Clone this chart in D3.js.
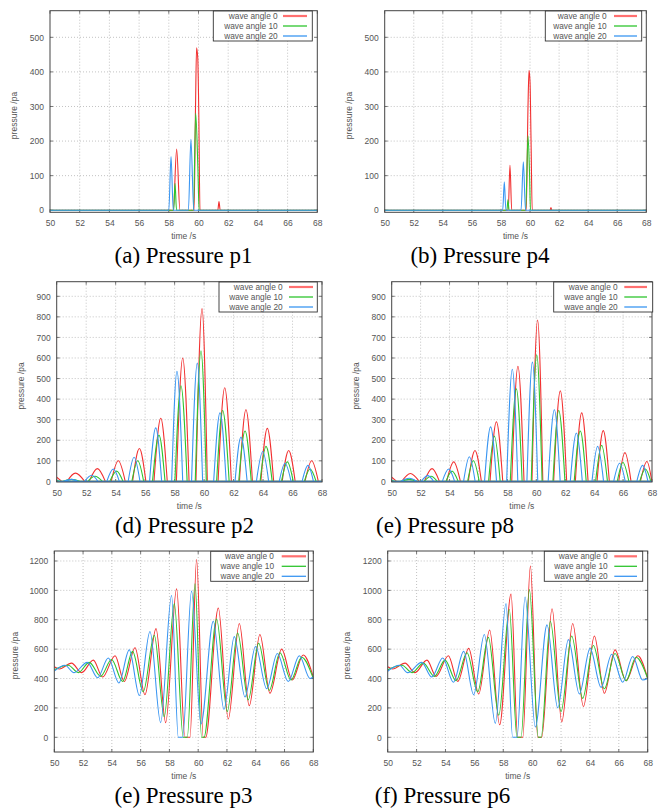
<!DOCTYPE html>
<html>
<head>
<meta charset="utf-8">
<script src="https://cdn.jsdelivr.net/npm/d3@7"></script>
<style>
  body { margin: 0; background: #fff; }
  svg { display: block; }
</style>
</head>
<body>
<svg id="fig" width="662" height="811"></svg>
<script>
// ---- shared axis values ----
const timeTicks = [50, 52, 54, 56, 58, 60, 62, 64, 66, 68];
const seriesNames = ["wave angle 0", "wave angle 10", "wave angle 20"];
const ticksSmall = [0, 100, 200, 300, 400, 500];
const ticksMid = [0, 100, 200, 300, 400, 500, 600, 700, 800, 900];
const ticksLarge = [0, 200, 400, 600, 800, 1000, 1200];

// ---- p1 : [time, pressure] ----
const p1_angle0 = [[50,0],[58.3,0],[58.53,177],[58.75,0],[59.7,0],[59.8,300],[59.87,470],[59.95,440],[60.02,280],[60.1,0],[61.3,0],[61.38,25],[61.46,0],[68,0]];
const p1_angle10 = [[50,0],[58.33,0],[58.42,78],[58.52,0],[59.66,0],[59.81,280],[59.96,120],[60.04,0],[68,0]];
const p1_angle20 = [[50,0],[58.0,0],[58.15,155],[58.3,0],[59.32,0],[59.49,205],[59.68,0],[68,0]];

// ---- p4 : [time, pressure] ----
const p4_angle0 = [[50,0],[58.5,0],[58.62,130],[58.74,0],[59.74,0],[59.86,300],[59.93,405],[60.0,370],[60.07,200],[60.15,0],[61.38,0],[61.44,8],[61.5,0],[68,0]];
const p4_angle10 = [[50,0],[58.41,0],[58.48,30],[58.56,0],[59.7,0],[59.86,215],[59.97,100],[60.03,0],[68,0]];
const p4_angle20 = [[50,0],[58.12,0],[58.23,82],[58.34,0],[59.38,0],[59.54,140],[59.69,0],[68,0]];

// ---- p2 : leading samples, then pulses [start, peak time, peak, end] ----
const p2_angle0_lead = [[50,20],[50.35,0]];
const p2_angle0 = [[50.7,51.27,40,51.9],[52.2,52.76,62,53.3],[53.7,54.18,100,54.65],[55.15,55.61,160,56.05],[56.6,57.06,307,57.5],[58.12,58.55,600,58.98],[59.45,59.86,840,60.22],[60.95,61.4,455,61.85],[62.4,62.84,348,63.28],[63.85,64.29,258,64.72],[65.3,65.74,150,66.18],[66.85,67.3,100,67.75]];
const p2_angle10_lead = [[50,4],[50.3,0]];
const p2_angle10 = [[50.4,51.0,10,51.6],[52.1,52.6,25,53.1],[53.6,54.07,50,54.5],[55.1,55.5,100,55.9],[56.5,56.94,225,57.35],[58.02,58.43,465,58.85],[59.4,59.79,635,60.15],[60.85,61.26,345,61.7],[62.35,62.78,245,63.2],[63.8,64.2,170,64.62],[65.25,65.65,95,66.05],[66.8,67.19,60,67.6]];
const p2_angle20_lead = [[50,2],[50.3,0]];
const p2_angle20 = [[50.45,51.0,10,51.5],[51.9,52.37,30,52.8],[53.4,53.84,60,54.25],[54.85,55.25,117,55.65],[56.3,56.72,260,57.12],[57.8,58.16,535,58.55],[59.15,59.54,575,59.9],[60.65,61.08,333,61.5],[62.1,62.5,215,62.92],[63.55,63.98,145,64.38],[65.1,65.49,88,65.9],[66.65,67.05,78,67.42]];

// ---- p8 : leading samples, then pulses [start, peak time, peak, end] ----
const p8_angle0_lead = [[50,20],[50.35,0]];
const p8_angle0 = [[50.7,51.29,38,51.9],[52.25,52.79,62,53.3],[53.8,54.29,95,54.75],[55.3,55.76,150,56.2],[56.8,57.24,290,57.68],[58.3,58.73,560,59.15],[59.7,60.09,785,60.45],[61.2,61.66,440,62.1],[62.7,63.14,333,63.58],[64.2,64.63,247,65.05],[65.7,66.13,140,66.55],[67.2,67.65,97,67.99]];
const p8_angle10_lead = [[50,4],[50.3,0]];
const p8_angle10 = [[50.6,51.2,10,51.8],[52.25,52.72,25,53.15],[53.75,54.17,50,54.6],[55.25,55.65,100,56.05],[56.7,57.1,220,57.5],[58.2,58.62,450,59.02],[59.65,60.03,615,60.4],[61.15,61.55,345,61.98],[62.62,63.04,245,63.45],[64.1,64.52,175,64.92],[65.6,65.99,92,66.4],[67.15,67.54,60,67.92]];
const p8_angle20_lead = [[50,2],[50.3,0]];
const p8_angle20 = [[50.6,51.22,15,51.75],[52.05,52.49,28,52.9],[53.5,53.94,60,54.35],[54.97,55.37,120,55.77],[56.42,56.84,265,57.25],[57.95,58.34,545,58.72],[59.35,59.73,580,60.1],[60.82,61.25,348,61.65],[62.35,62.77,235,63.18],[63.85,64.24,170,64.65],[65.35,65.76,88,66.15],[66.95,67.35,78,67.72]];

// ---- p3 : turning points [time, pressure] ----
const p3_angle0 = [[50,480],[50.35,465],[51.2,505],[51.9,440],[52.71,525],[53.36,410],[54.22,555],[54.86,380],[55.61,610],[56.3,290],[57.07,740],[57.74,100],[58.5,1010],[59.08,0],[59.43,0],[59.89,1210],[60.35,0],[60.52,0],[61.4,880],[62.09,125],[62.86,775],[63.55,215],[64.29,700],[64.99,300],[65.8,600],[66.54,390],[67.3,560],[68,410]];
const p3_angle10 = [[50,460],[50.97,490],[51.67,440],[52.43,510],[53.22,415],[53.98,530],[54.75,380],[55.44,585],[56.18,310],[56.95,695],[57.64,140],[58.34,910],[58.96,0],[59.24,0],[59.78,1045],[60.24,0],[60.4,0],[61.28,805],[62.02,175],[62.74,710],[63.48,255],[64.2,640],[64.94,320],[65.68,575],[66.45,390],[67.19,545],[68,400]];
const p3_angle20 = [[50,450],[50.74,490],[51.37,440],[52.29,510],[53.01,405],[53.75,540],[54.49,370],[55.21,595],[55.91,285],[56.65,720],[57.39,100],[58.15,965],[58.62,0],[58.92,0],[59.54,995],[60.19,90],[61.05,790],[61.79,190],[62.51,685],[63.25,275],[63.99,620],[64.76,330],[65.5,570],[66.26,380],[67.03,555],[67.77,400],[68,410]];

// ---- p6 : turning points [time, pressure] ----
const p6_angle0 = [[50,480],[50.35,465],[51.2,505],[51.89,440],[52.72,525],[53.35,415],[54.2,555],[54.85,380],[55.61,605],[56.3,295],[57.06,730],[57.75,85],[58.54,975],[59.0,0],[59.35,0],[59.88,1165],[60.39,0],[60.66,0],[61.38,875],[62.05,105],[62.81,775],[63.55,210],[64.31,690],[65.0,300],[65.74,595],[66.5,385],[67.31,555],[68,400]];
const p6_angle10 = [[50,460],[50.99,490],[51.68,440],[52.47,505],[53.23,415],[53.97,525],[54.73,385],[55.49,575],[56.23,310],[56.97,680],[57.69,150],[58.42,870],[58.95,0],[59.23,0],[59.81,1005],[60.43,0],[60.62,0],[61.26,790],[62.0,175],[62.74,690],[63.5,265],[64.24,625],[65.0,330],[65.74,570],[66.5,385],[67.19,545],[68,400]];
const p6_angle20 = [[50,450],[50.81,490],[51.38,440],[52.35,510],[53.05,410],[53.81,540],[54.55,375],[55.26,585],[55.95,290],[56.69,700],[57.45,95],[58.19,910],[58.65,0],[58.95,0],[59.51,955],[60.22,70],[61.03,765],[61.77,200],[62.51,665],[63.27,295],[64.01,605],[64.77,340],[65.51,565],[66.27,375],[66.96,550],[67.65,390],[68,400]];

const colors = ["#f23030", "#2ec42e", "#3a96f2"];
const legendColors = ["#ff7070", "#2ec42e", "#3a96f2"];
const legendWidths = [2.2, 1.3, 1.3];
const ink = "#555";

// Each trace is either a list of points (smooth curve through them) or
// a lead-in plus pulses that rise from and return to the zero line.
const panels = [
  { caption: "(a) Pressure p1", capX: 183.5, capY: 263, L: 50, R: 317.3, T: 10.7, B: 212.3, yDom: [-6, 577], yTicks: ticksSmall, ylabX: 14,
    series: [{ pts: p1_angle0 }, { pts: p1_angle10 }, { pts: p1_angle20 }], leg: [213.3, 312.3, 277.7, 283, 307] },
  { caption: "(b) Pressure p4", capX: 480, capY: 263, L: 384.7, R: 646.3, T: 10.7, B: 212.3, yDom: [-6, 577], yTicks: ticksSmall, ylabX: 349.3,
    series: [{ pts: p4_angle0 }, { pts: p4_angle10 }, { pts: p4_angle20 }], leg: [545.3, 641.7, 606.7, 614, 637] },
  { caption: "(d) Pressure p2", capX: 184.5, capY: 533, L: 56.7, R: 322, T: 281.7, B: 482, yDom: [-3, 971], yTicks: ticksMid, ylabX: 20.7,
    series: [{ lead: p2_angle0_lead, pulses: p2_angle0 }, { lead: p2_angle10_lead, pulses: p2_angle10 }, { lead: p2_angle20_lead, pulses: p2_angle20 }],
    leg: [219, 317.3, 282.7, 289, 313] },
  { caption: "(e) Pressure p8", capX: 445, capY: 533, L: 391.7, R: 652, T: 281.7, B: 482, yDom: [-3, 971], yTicks: ticksMid, ylabX: 356,
    series: [{ lead: p8_angle0_lead, pulses: p8_angle0 }, { lead: p8_angle10_lead, pulses: p8_angle10 }, { lead: p8_angle20_lead, pulses: p8_angle20 }],
    leg: [553.7, 652.7, 617.7, 624.3, 647] },
  { caption: "(e) Pressure p3", capX: 183.5, capY: 803, L: 54.3, R: 313.3, T: 551, B: 752, yDom: [-100, 1268], yTicks: ticksLarge, ylabX: 15,
    series: [{ pts: p3_angle0 }, { pts: p3_angle10 }, { pts: p3_angle20 }], leg: [210.7, 308.3, 274, 281.7, 306] },
  { caption: "(f) Pressure p6", capX: 442.5, capY: 803, L: 387.7, R: 647.7, T: 551, B: 752, yDom: [-100, 1268], yTicks: ticksLarge, ylabX: 347,
    series: [{ pts: p6_angle0 }, { pts: p6_angle10 }, { pts: p6_angle20 }], leg: [544.3, 642.7, 607.7, 614.3, 637] }
];

const svg = d3.select("#fig");
const font = "'Liberation Sans', Arial, sans-serif";

panels.forEach((p, i) => {
  const x = d3.scaleLinear().domain([50, 68]).range([p.L, p.R]);
  const y = d3.scaleLinear().domain(p.yDom).range([p.B, p.T]);
  const g = svg.append("g");

  const clipId = "clip" + i;
  svg.append("clipPath").attr("id", clipId).append("rect")
    .attr("x", p.L).attr("y", p.T).attr("width", p.R - p.L).attr("height", p.B - p.T);

  // dotted grid
  const grid = g.append("g").attr("stroke", "#b4b4b4").attr("stroke-width", 0.8).attr("stroke-dasharray", "1,2");
  timeTicks.filter(t => t > 50 && t < 68).forEach(t => {
    grid.append("line").attr("x1", x(t)).attr("x2", x(t)).attr("y1", p.T).attr("y2", p.B);
  });
  p.yTicks.forEach(v => {
    grid.append("line").attr("x1", p.L).attr("x2", p.R).attr("y1", y(v)).attr("y2", y(v));
  });

  // axes (labels only; the frame is drawn below)
  const xAxis = d3.axisBottom(x).tickValues(timeTicks).tickSize(0).tickPadding(8).tickFormat(d3.format("d"));
  const yAxis = d3.axisLeft(y).tickValues(p.yTicks).tickSize(0).tickPadding(6).tickFormat(d3.format("d"));
  const gx = g.append("g").attr("transform", `translate(0,${p.B})`).call(xAxis);
  const gy = g.append("g").attr("transform", `translate(${p.L},0)`).call(yAxis);
  [gx, gy].forEach(a => {
    a.select(".domain").remove();
    a.selectAll("text").attr("fill", ink).style("font-family", font).style("font-size", "8.5px");
  });

  // small inward tick marks
  const tk = g.append("g").attr("stroke", ink).attr("stroke-width", 0.8);
  timeTicks.forEach(t => {
    tk.append("line").attr("x1", x(t)).attr("x2", x(t)).attr("y1", p.B).attr("y2", p.B - 3);
    tk.append("line").attr("x1", x(t)).attr("x2", x(t)).attr("y1", p.T).attr("y2", p.T + 3);
  });
  p.yTicks.forEach(v => {
    tk.append("line").attr("x1", p.L).attr("x2", p.L + 3).attr("y1", y(v)).attr("y2", y(v));
    tk.append("line").attr("x1", p.R).attr("x2", p.R - 3).attr("y1", y(v)).attr("y2", y(v));
  });

  // data lines
  const smooth = d3.line().x(d => x(d[0])).y(d => y(d[1])).curve(d3.curveMonotoneX);
  const straight = d3.line().x(d => x(d[0])).y(d => y(d[1]));
  const lines = g.append("g").attr("clip-path", `url(#${clipId})`);
  p.series.forEach((s, k) => {
    let d;
    if (s.pts) {
      d = smooth(s.pts);
    } else {
      // zero line with the lead-in, then each pulse as its own smooth arc
      d = straight(s.lead.concat([[68, 0]]));
      s.pulses.forEach(([t0, tp, v, t1]) => { d += smooth([[t0, 0], [tp, v], [t1, 0]]); });
    }
    lines.append("path").attr("d", d)
      .attr("fill", "none").attr("stroke", colors[k]).attr("stroke-width", 1.1)
      .attr("stroke-linejoin", "round");
  });

  // frame
  g.append("rect").attr("x", p.L).attr("y", p.T).attr("width", p.R - p.L).attr("height", p.B - p.T)
    .attr("fill", "none").attr("stroke", "#444").attr("stroke-width", 1);

  // legend
  const [bx0, bx1, txtR, lx0, lx1] = p.leg;
  const ly0 = p.T + 0.3;
  const lg = g.append("g");
  lg.append("rect").attr("x", bx0).attr("y", ly0).attr("width", bx1 - bx0).attr("height", 30)
    .attr("fill", "#fff").attr("stroke", "#333").attr("stroke-width", 0.9);
  seriesNames.forEach((name, k) => {
    const cy = ly0 + 5 + k * 10;
    lg.append("text").attr("x", txtR).attr("y", cy + 3).attr("text-anchor", "end")
      .attr("fill", ink).style("font-family", font).style("font-size", "8.3px").text(name);
    lg.append("line").attr("x1", lx0).attr("x2", lx1).attr("y1", cy).attr("y2", cy)
      .attr("stroke", legendColors[k]).attr("stroke-width", legendWidths[k]);
  });

  // axis titles
  g.append("text").attr("x", (p.L + p.R) / 2).attr("y", p.B + 27).attr("text-anchor", "middle")
    .attr("fill", ink).style("font-family", font).style("font-size", "8.5px").text("time /s");
  g.append("text").attr("transform", `translate(${p.ylabX + 3},${(p.T + p.B) / 2 + 4}) rotate(-90)`)
    .attr("text-anchor", "middle").attr("fill", ink).style("font-family", font).style("font-size", "8.5px")
    .text("pressure /pa");

  // caption
  g.append("text").attr("x", p.capX).attr("y", p.capY).attr("text-anchor", "middle")
    .attr("fill", "#000").style("font-family", "'Liberation Serif', 'Times New Roman', serif").style("font-size", "23px")
    .text(p.caption);
});
</script>
</body>
</html>
